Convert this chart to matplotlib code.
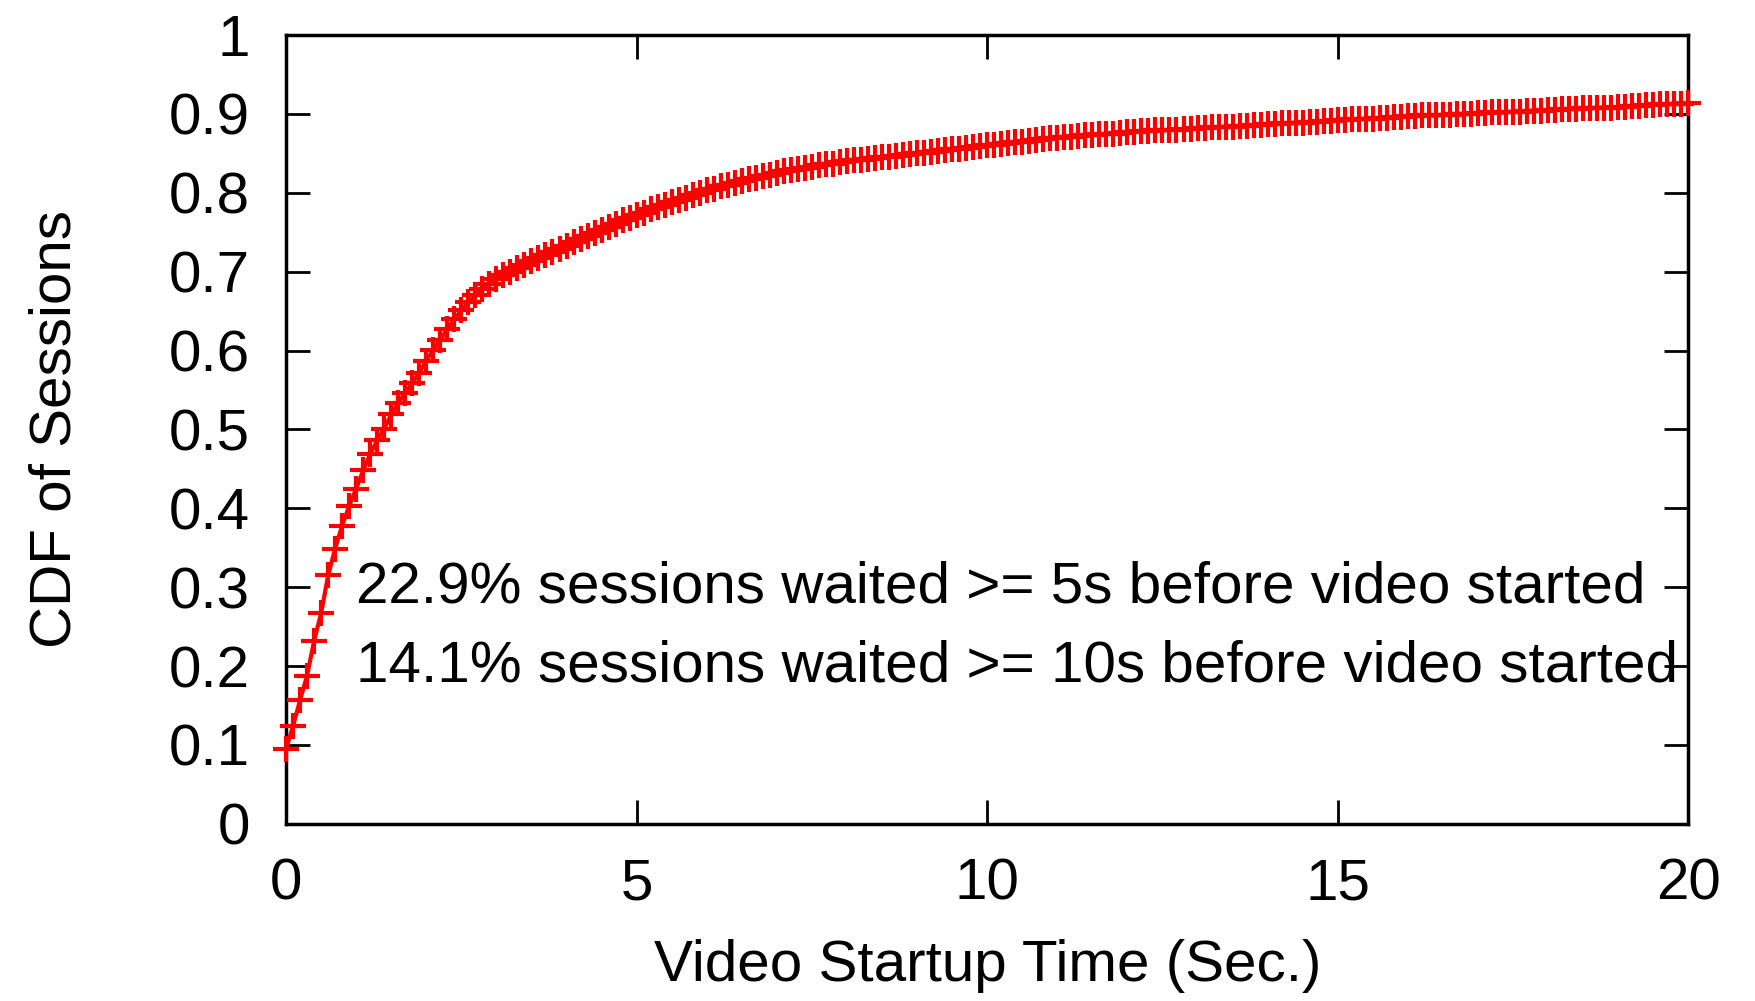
import numpy as np
import matplotlib
matplotlib.use("Agg")
import matplotlib.pyplot as plt

plt.rcParams['font.family'] = ['Liberation Sans', 'DejaVu Sans']

# startup time (s), sampled every 0.1 s from 0 to 20
startup_time = np.round(np.arange(0, 201) * 0.1, 1)

# CDF of sessions, one row per second
cdf_sessions = [
    0.095, 0.124, 0.157, 0.188, 0.232, 0.267, 0.315, 0.349, 0.378, 0.403,
    0.425, 0.448, 0.469, 0.486, 0.501, 0.519, 0.534, 0.546, 0.559, 0.572,
    0.587, 0.601, 0.614, 0.627, 0.640, 0.651, 0.661, 0.670, 0.678, 0.685,
    0.691, 0.696, 0.700, 0.705, 0.709, 0.713, 0.717, 0.721, 0.725, 0.729,
    0.733, 0.737, 0.741, 0.745, 0.749, 0.753, 0.757, 0.761, 0.765, 0.768,
    0.772, 0.775, 0.779, 0.782, 0.785, 0.788, 0.791, 0.794, 0.797, 0.800,
    0.803, 0.805, 0.808, 0.810, 0.812, 0.815, 0.817, 0.819, 0.821, 0.823,
    0.825, 0.827, 0.829, 0.830, 0.832, 0.833, 0.835, 0.836, 0.837, 0.839,
    0.840, 0.841, 0.842, 0.843, 0.844, 0.845, 0.846, 0.847, 0.848, 0.849,
    0.850, 0.851, 0.852, 0.853, 0.854, 0.855, 0.856, 0.857, 0.858, 0.859,
    0.860, 0.861, 0.862, 0.863, 0.864, 0.865, 0.866, 0.867, 0.868, 0.869,
    0.870, 0.871, 0.871, 0.872, 0.873, 0.873, 0.874, 0.875, 0.875, 0.876,
    0.877, 0.877, 0.878, 0.878, 0.879, 0.879, 0.880, 0.880, 0.881, 0.881,
    0.882, 0.882, 0.883, 0.883, 0.884, 0.884, 0.885, 0.885, 0.886, 0.886,
    0.887, 0.887, 0.888, 0.888, 0.889, 0.889, 0.890, 0.890, 0.891, 0.891,
    0.892, 0.892, 0.893, 0.893, 0.894, 0.894, 0.895, 0.895, 0.896, 0.896,
    0.897, 0.897, 0.898, 0.898, 0.898, 0.899, 0.899, 0.900, 0.900, 0.900,
    0.901, 0.901, 0.902, 0.902, 0.902, 0.903, 0.903, 0.904, 0.904, 0.904,
    0.905, 0.905, 0.906, 0.906, 0.906, 0.907, 0.907, 0.908, 0.908, 0.908,
    0.909, 0.909, 0.910, 0.910, 0.911, 0.911, 0.912, 0.912, 0.913, 0.913,
    0.914,
]

x_ticks = [0, 5, 10, 15, 20]
y_ticks = [0, 0.1, 0.2, 0.3, 0.4, 0.5, 0.6, 0.7, 0.8, 0.9, 1]
y_tick_labels = ["0", "0.1", "0.2", "0.3", "0.4", "0.5", "0.6", "0.7", "0.8", "0.9", "1"]

notes = [
    (0.3, "22.9% sessions waited >= 5s before video started"),
    (0.2, "14.1% sessions waited >= 10s before video started"),
]

FS = 42

fig = plt.figure(figsize=(17.55, 10.01), dpi=100)
ax = fig.add_axes([0.163, 0.177, 0.799, 0.788])

ax.plot(startup_time, cdf_sessions, color='red', lw=3, marker='+',
        markersize=19, markeredgewidth=3, clip_on=False, zorder=3)

ax.set_xlim(0, 20)
ax.set_ylim(0, 1)
ax.set_xticks(x_ticks)
ax.set_yticks(y_ticks)
ax.set_yticklabels(y_tick_labels)

ax.tick_params(direction='in', length=17, width=2, labelsize=FS,
               top=True, right=True)
ax.tick_params(axis='y', pad=26)
ax.tick_params(axis='x', pad=24)
for s in ax.spines.values():
    s.set_linewidth(2.5)

ax.set_xlabel("Video Startup Time (Sec.)", fontsize=FS, labelpad=20)
ax.set_ylabel("CDF of Sessions", fontsize=FS, labelpad=62)

for y, txt in notes:
    ax.text(1.0, y, txt, fontsize=FS, va='center', ha='left')

fig.savefig("out.png", dpi=100)
